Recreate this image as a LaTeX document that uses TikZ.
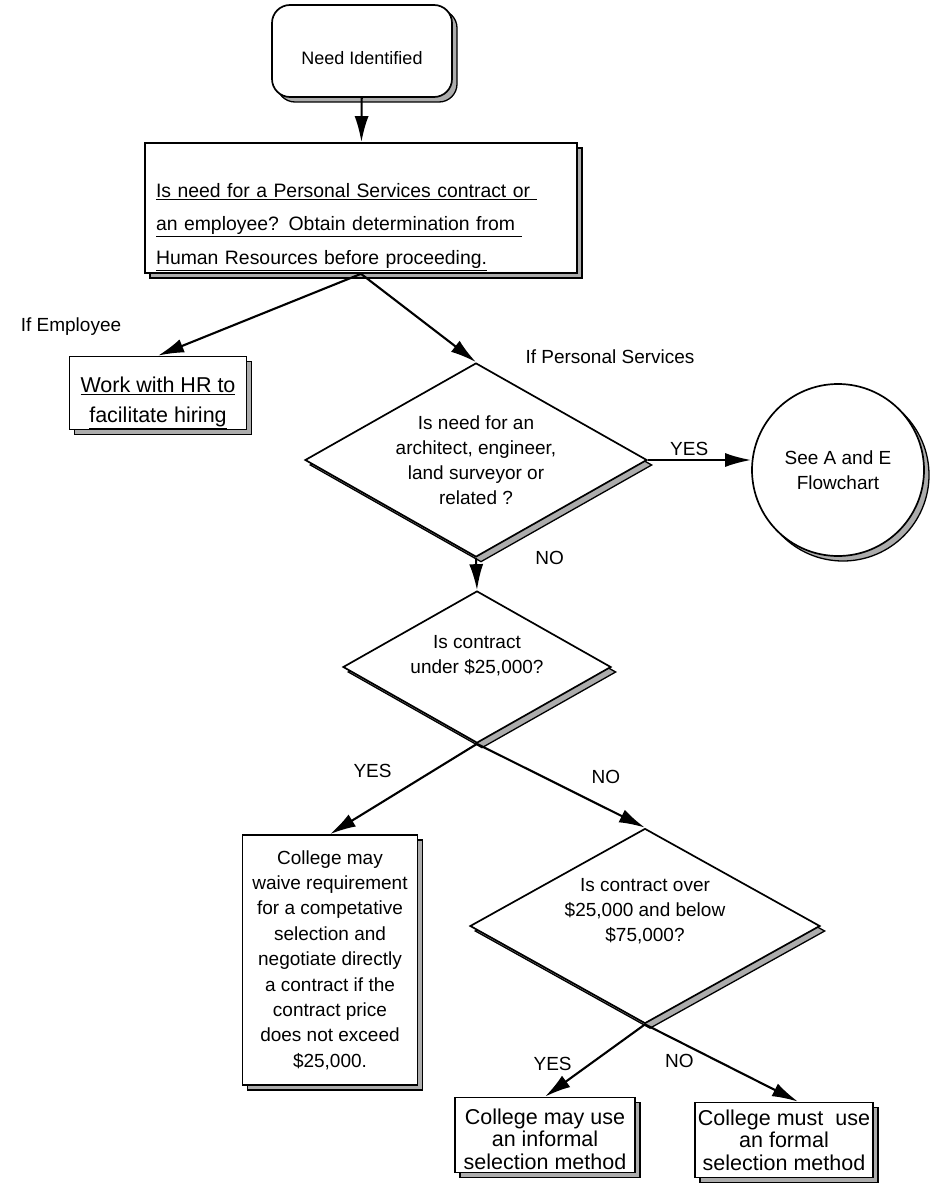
\documentclass[tikz,border=0pt]{standalone}
\usepackage{fontspec}
\setmainfont{Liberation Sans}
\usetikzlibrary{shapes.geometric,arrows.meta,shadows,positioning}

\begin{document}
\begin{tikzpicture}[x=1pt, y=-1pt, line width=2.1pt,
>={Latex[length=26pt,width=14pt]},
every node/.style={font=\fontsize{19}{25}\selectfont},
dropped/.style={drop shadow={shadow xshift=5pt, shadow yshift=-5pt,
  fill=gray!65, draw=black, line width=1.3pt, opacity=1}},
box/.style={rectangle, draw, line width=1.7pt, fill=white, inner sep=2pt,
  align=center, dropped},
decision/.style={diamond, aspect=1.8, draw, line width=1.7pt, fill=white,
  inner sep=0pt, align=center, dropped},
bigtext/.style={font=\fontsize{21.5}{22.5}\selectfont}]
\fill [white] (0,0) rectangle (935,1196);
\useasboundingbox (0,0) rectangle (935,1196);

\node [box, rounded corners=18pt, minimum width=180pt, minimum height=92pt,
  font=\fontsize{18}{22}\selectfont] (need) at (362,51)
  {\rule{0pt}{27pt}Need Identified};
\node [box, align=left, text width=410pt, inner xsep=11pt, inner ysep=0pt,
  minimum height=130pt, font=\fontsize{19.4}{33.5}\selectfont] (query) at (361,208)
  {\rule{0pt}{52pt}\underline{Is need for a Personal Services contract or }\\
   \underline{an employee? Obtain determination from }\\
   \underline{Human Resources before proceeding.}};
\node [box, inner ysep=0pt, minimum width=177pt, minimum height=73pt,
  font=\fontsize{21.5}{30}\selectfont] (work) at (158,393)
  {\rule{0pt}{35pt}\underline{Work with HR to}\\\underline{facilitate hiring}};
\node (ifemp) at (71,327) {If Employee};
\node (ifps) at (610,357) {If Personal Services};
\node [decision, minimum width=342pt, minimum height=194pt] (archq) at (476,460)
  {Is need for an\\architect, engineer,\\land surveyor or\\related ?};
\node [circle, draw, line width=1.7pt, fill=white, dropped, minimum size=172pt,
  inner sep=0pt, align=center] (ae) at (838,470) {See A and E\\Flowchart};
\node [decision, minimum width=268pt, minimum height=152pt] (under) at (477,667)
  {Is contract\\under \$25,000?\rule[-25pt]{0pt}{25pt}};
\node [box, minimum width=175pt, minimum height=250pt,
  font=\fontsize{19}{25.4}\selectfont] (waive) at (330,960)
  {College may\\waive requirement\\for a competative\\selection and\\
   negotiate directly\\a contract if the\\contract price\\does not exceed\\\$25,000.};
\node [decision, minimum width=350pt, minimum height=195pt] (range) at (645,926)
  {Is contract over\\\$25,000 and below\\\$75,000?\rule[-32pt]{0pt}{32pt}};
\node [box, bigtext, inner ysep=0pt, minimum width=180pt, minimum height=75pt]
  (informal) at (545,1135)
  {\rule{0pt}{24pt}College may use\\an informal\\selection method};
\node [box, bigtext, minimum width=178pt, minimum height=75pt] (formal) at (784,1140)
  {College must \ use\\an formal\\selection method};

\path [->]
(need) edge (query)
(query.south) edge (work.north)
  edge (archq.north)
(archq.east) edge node [above, pos=.4] {YES} (archq.east -| ae.west)
(archq.south) edge node [pos=0, right=55pt] {NO} (under.north)
(under.south) edge node [pos=.3, left=37pt] {YES} (waive.north)
  edge node [pos=.4, right=43pt] {NO} (range.north)
(range.south) edge node [pos=.55, left=14pt] {YES} (informal.north)
  edge node [pos=.47, left=19pt] {NO} ([xshift=14pt]formal.north);
\end{tikzpicture}
\end{document}
